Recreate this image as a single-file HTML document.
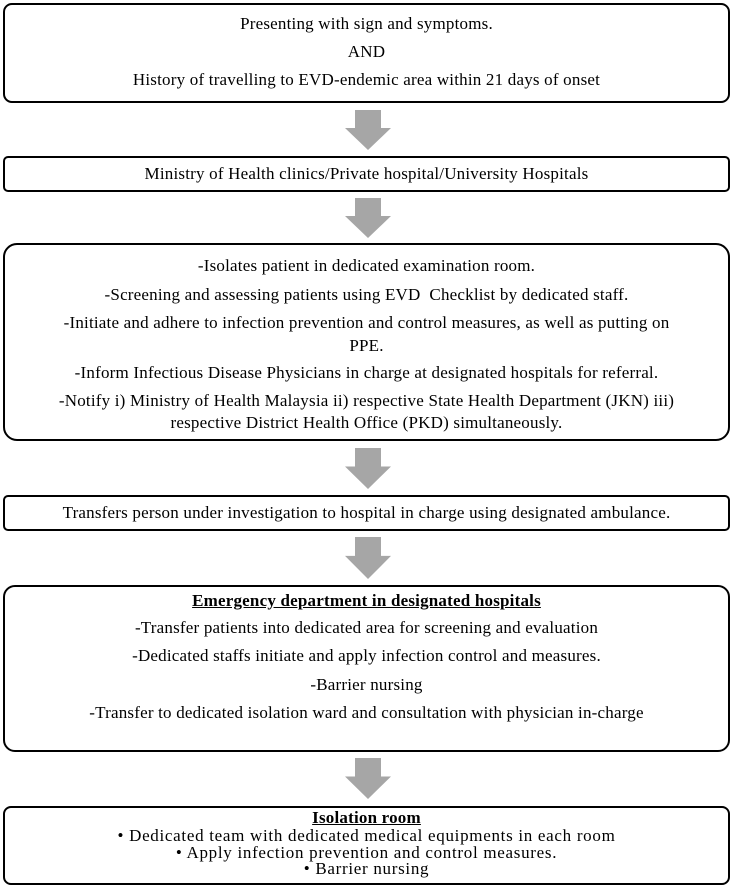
<!DOCTYPE html>
<html><head><meta charset="utf-8"><style>
body{margin:0;width:737px;height:887px;background:#fff;position:relative;font-family:"Liberation Serif",serif;font-size:17px;color:#000;overflow:hidden}
.b{position:absolute;left:3px;width:727px;border:2px solid #000;border-radius:9px;box-sizing:border-box;text-align:center}
.l{position:absolute;left:0;right:0;white-space:nowrap;letter-spacing:0.2px;line-height:20px}
.a{position:absolute;left:345px;width:46px}
.w .l{letter-spacing:0.7px}
</style></head><body>
<div class="b" style="top:3px;height:100px">
<div class="l" style="top:9px">Presenting with sign and symptoms.</div>
<div class="l" style="top:37px">AND</div>
<div class="l" style="top:65px">History of travelling to EVD-endemic area within 21 days of onset</div>
</div>
<svg class="a" style="top:110px" height="40" viewBox="0 0 46 40"><polygon points="10,0 36,0 36,18 46,18 23,40 0,18 10,18" fill="#a6a6a6"/></svg>
<div class="b" style="top:156px;height:36px;border-radius:5px">
<div class="l" style="top:6px">Ministry of Health clinics/Private hospital/University Hospitals</div>
</div>
<svg class="a" style="top:198px" height="40" viewBox="0 0 46 40"><polygon points="10,0 36,0 36,18 46,18 23,40 0,18 10,18" fill="#a6a6a6"/></svg>
<div class="b" style="top:243px;height:198px;border-radius:14px">
<div class="l" style="top:11px">-Isolates patient in dedicated examination room.</div>
<div class="l" style="top:40px">-Screening and assessing patients using EVD&nbsp; Checklist by dedicated staff.</div>
<div class="l" style="top:68px">-Initiate and adhere to infection prevention and control measures, as well as putting on</div>
<div class="l" style="top:91px">PPE.</div>
<div class="l" style="top:118px">-Inform Infectious Disease Physicians in charge at designated hospitals for referral.</div>
<div class="l" style="top:146px">-Notify i) Ministry of Health Malaysia ii) respective State Health Department (JKN) iii)</div>
<div class="l" style="top:168px">respective District Health Office (PKD) simultaneously.</div>
</div>
<svg class="a" style="top:448px" height="41" viewBox="0 0 46 40" preserveAspectRatio="none"><polygon points="10,0 36,0 36,18 46,18 23,40 0,18 10,18" fill="#a6a6a6"/></svg>
<div class="b" style="top:495px;height:36px;border-radius:5px">
<div class="l" style="top:6px">Transfers person under investigation to hospital in charge using designated ambulance.</div>
</div>
<svg class="a" style="top:537px" height="42" viewBox="0 0 46 40" preserveAspectRatio="none"><polygon points="10,0 36,0 36,18 46,18 23,40 0,18 10,18" fill="#a6a6a6"/></svg>
<div class="b" style="top:585px;height:167px;border-radius:12px">
<div class="l" style="top:4px;font-weight:bold;text-decoration:underline">Emergency department in designated hospitals</div>
<div class="l" style="top:31px">-Transfer patients into dedicated area for screening and evaluation</div>
<div class="l" style="top:59px">-Dedicated staffs initiate and apply infection control and measures.</div>
<div class="l" style="top:88px">-Barrier nursing</div>
<div class="l" style="top:116px">-Transfer to dedicated isolation ward and consultation with physician in-charge</div>
</div>
<svg class="a" style="top:758px" height="41" viewBox="0 0 46 40" preserveAspectRatio="none"><polygon points="10,0 36,0 36,18 46,18 23,40 0,18 10,18" fill="#a6a6a6"/></svg>
<div class="b w" style="top:806px;height:79px;border-radius:8px">
<div class="l" style="top:0px;font-weight:bold;text-decoration:underline;letter-spacing:0.2px">Isolation room</div>
<div class="l" style="top:18px">• Dedicated team with dedicated medical equipments in each room</div>
<div class="l" style="top:35px">• Apply infection prevention and control measures.</div>
<div class="l" style="top:51px">• Barrier nursing</div>
</div>
</body></html>
